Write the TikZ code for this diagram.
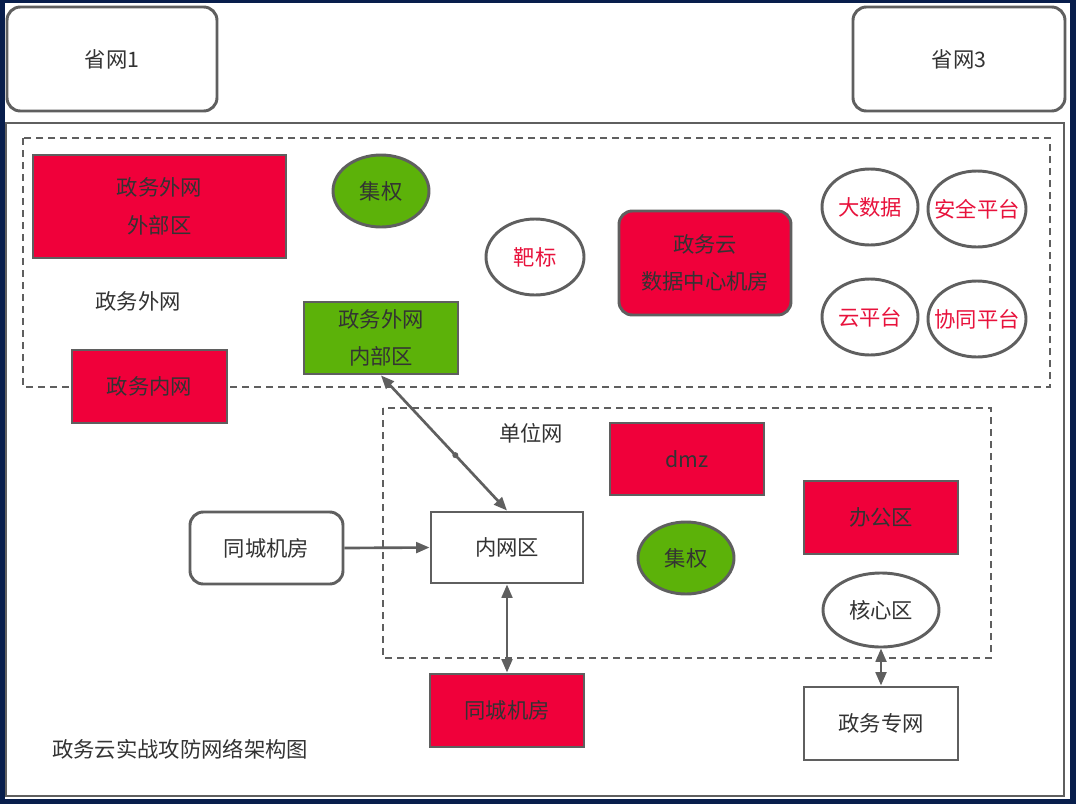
\documentclass[tikz,border=0pt]{standalone}
\usepackage{fontspec}
\setmainfont{Noto Sans CJK SC}
\usetikzlibrary{arrows.meta,shapes.geometric}
\definecolor{navy}{RGB}{8,30,76}
\definecolor{zred}{RGB}{240,0,58}
\definecolor{zgreen}{RGB}{92,178,9}
\definecolor{edgec}{RGB}{95,95,95}
\definecolor{txt}{RGB}{51,51,51}
\definecolor{rtxt}{RGB}{232,18,60}
\newcommand{\zb}[1]{\makebox[0pt]{#1}}
\begin{document}
\begin{tikzpicture}[x=0.75pt,y=-0.75pt,
  every node/.style={font=\fontsize{16pt}{28pt}\selectfont, text=txt, inner sep=0pt, align=center},
  sz/.style 2 args={minimum width=#1*0.75pt, minimum height=#2*0.75pt},
  base/.style={draw=edgec, line width=2.2pt},
  redbox/.style={base, rectangle, fill=zred},
  greenbox/.style={base, rectangle, fill=zgreen},
  whitebox/.style={base, rectangle, fill=white},
  roundbox/.style={base, rectangle, rounded corners=10pt, fill=white},
  oval/.style={base, ellipse, fill=white, text=rtxt},
  greenoval/.style={base, ellipse, fill=zgreen},
  zone/.style={draw=edgec, line width=2.2pt, dash pattern=on 5pt off 4pt},
  arr/.style={draw=edgec, line width=2pt, arrows={-Triangle[length=10pt,width=8pt]}},
  darr/.style={draw=edgec, line width=2pt, arrows={Triangle[length=10pt,width=8pt]-Triangle[length=10pt,width=8pt]}}
]
% background
\fill[navy] (0,0) rectangle (1076,804);
\fill[white] (5,3) rectangle (1070,799);
\draw[edgec, line width=2.2pt] (6,123) rectangle (1064,796);
% zones
\draw[zone] (23,138) rectangle (1050,387);
\draw[zone] (383,408) rectangle (991,658);

% top boxes
\node[roundbox, sz={210}{104}] (p1) at (112,59) {省网1};
\node[roundbox, sz={212}{104}] (p3) at (959,59) {省网3};

% 政务外网 zone
\node[redbox, sz={253}{103}] (ext) at (159.5,206.5) {政务外网\\外部区};
\node[greenoval, sz={96}{72}] (jq1) at (381,191) {\zb{集权}};
\node (lblext) at (138,301) {政务外网};
\node[redbox, sz={155}{73}] (inner) at (149.5,386.5) {政务内网};
\node[greenbox, sz={154}{72}] (gin) at (381,338) {政务外网\\内部区};
\node[oval, sz={98}{76}] (bb) at (535,257) {\zb{靶标}};
\node[redbox, rounded corners=10pt, sz={172}{104}] (zwy) at (705,263) {政务云\\数据中心机房};
\node[oval, sz={96}{76}] (dsj) at (870,207) {\zb{大数据}};
\node[oval, sz={98}{76}] (aq) at (977,209) {\zb{安全平台}};
\node[oval, sz={96}{76}] (ypt) at (870,317) {\zb{云平台}};
\node[oval, sz={98}{76}] (xt) at (977,319) {\zb{协同平台}};

% 单位网 zone
\node (lbldw) at (531,433) {单位网};
\node[redbox, sz={154}{72}] (dmz) at (687,459) {dmz};
\node[redbox, sz={154}{73}] (bgq) at (881,517.5) {办公区};
\node[greenoval, sz={96}{72}] (jq2) at (686,558) {\zb{集权}};
\node[base, ellipse, fill=white, sz={116}{74}] (hxq) at (881,610) {\zb{核心区}};
\node[whitebox, sz={152}{71}] (nwq) at (507,547.5) {内网区};

% outside
\node[roundbox, sz={153}{72}] (tc1) at (266.5,548) {同城机房};
\node[redbox, sz={154}{73}] (tc2) at (507,710.5) {同城机房};
\node[whitebox, sz={154}{73}] (zwzw) at (881,723.5) {政务专网};
\node[anchor=west] (title) at (52,749) {政务云实战攻防网络架构图};

% connectors
\draw[darr] (gin.south) -- (nwq.north) node[pos=0.59, circle, fill=edgec, minimum size=4.5pt] (dot) {};
\draw[arr] (tc1.east) -- (nwq.west);
\draw[darr] (nwq.south) -- (tc2.north);
\draw[darr] (hxq.south) -- (zwzw.north);
\end{tikzpicture}
\end{document}
